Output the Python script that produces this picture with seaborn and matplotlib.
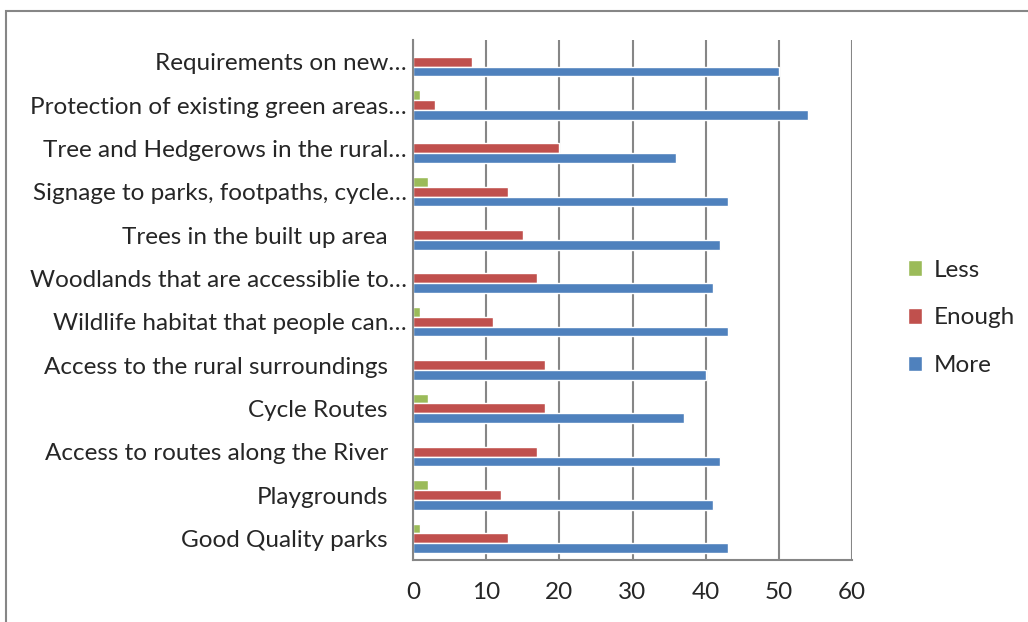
import pandas as pd
import matplotlib
matplotlib.use("Agg")
import matplotlib.pyplot as plt
import seaborn as sns
from matplotlib.patches import Rectangle
from matplotlib.transforms import ScaledTranslation

# categories, top to bottom
categories = [
    "Requirements on new…",
    "Protection of existing green areas…",
    "Tree and Hedgerows in the rural…",
    "Signage to parks, footpaths, cycle…",
    "Trees in the built up area",
    "Woodlands that are accessiblie to…",
    "Wildlife habitat that people can…",
    "Access to the rural surroundings",
    "Cycle Routes",
    "Access to routes along the River",
    "Playgrounds",
    "Good Quality parks",
]
less = [0, 1, 0, 2, 0, 0, 1, 0, 2, 0, 2, 1]
enough = [8, 3, 20, 13, 15, 17, 11, 18, 18, 17, 12, 13]
more = [50, 54, 36, 43, 42, 41, 43, 40, 37, 42, 41, 43]
series = ["Less", "Enough", "More"]
colors = {"Less": "#9BBB59", "Enough": "#C0504D", "More": "#4F81BD"}
x_ticks = [0, 10, 20, 30, 40, 50, 60]

rows = []
for name, vals in zip(series, [less, enough, more]):
    for cat, v in zip(categories, vals):
        rows.append({"category": cat, "series": name, "value": v})
df = pd.DataFrame(rows)

sns.set_style("white")
plt.rcParams["font.family"] = ["Lato", "DejaVu Sans"]
grid_col = "#868686"
fs = 17.5

fig = plt.figure(figsize=(10.28, 6.22), dpi=100)
ax = fig.add_axes([413 / 1028, 1 - 560 / 622, 439 / 1028, 520 / 622])

sns.barplot(data=df, y="category", x="value", hue="series", order=categories,
            hue_order=series, palette=colors, orient="h", width=0.67,
            saturation=1, ax=ax, legend=True)

ax.set_xlim(0, 60)
ax.set_ylim(len(categories) - 0.5, -0.5)
ax.set_xticks(x_ticks)
ax.set_xlabel("")
ax.set_ylabel("")
ax.xaxis.grid(True, color=grid_col, linewidth=1.5)
ax.set_axisbelow(True)

for s in ["top", "right"]:
    ax.spines[s].set_visible(False)
for s in ["left", "bottom"]:
    ax.spines[s].set_color(grid_col)
    ax.spines[s].set_linewidth(1.5)

ax.tick_params(axis="x", length=6, width=1.5, color=grid_col, labelsize=fs, pad=10, direction="out")
ax.tick_params(axis="y", which="major", length=0, labelsize=fs, pad=18)
ax.set_yticks([i - 0.5 for i in range(len(categories) + 1)], minor=True)
ax.tick_params(axis="y", which="minor", length=8, width=1.5, color=grid_col, direction="out")

# truncated labels reach closer to the axis, as in the original
shift = ScaledTranslation(19 / 100, 0, fig.dpi_scale_trans)
for lab in ax.get_yticklabels():
    if lab.get_text().endswith("…"):
        lab.set_transform(lab.get_transform() + shift)

handles, labels = ax.get_legend_handles_labels()
ax.legend(handles, labels, loc="center left", bbox_to_anchor=(886 / 1028, 1 - 318 / 622),
          bbox_transform=fig.transFigure, frameon=False, fontsize=fs,
          handlelength=0.6, handleheight=0.6, handletextpad=0.45, labelspacing=1.1)

# chart border
fig.add_artist(Rectangle((6 / 1028, -0.1), 1.2, 1 - 11 / 622 + 0.1, transform=fig.transFigure,
                         fill=False, edgecolor=grid_col, linewidth=1.5))

fig.savefig("out.png", dpi=100)
